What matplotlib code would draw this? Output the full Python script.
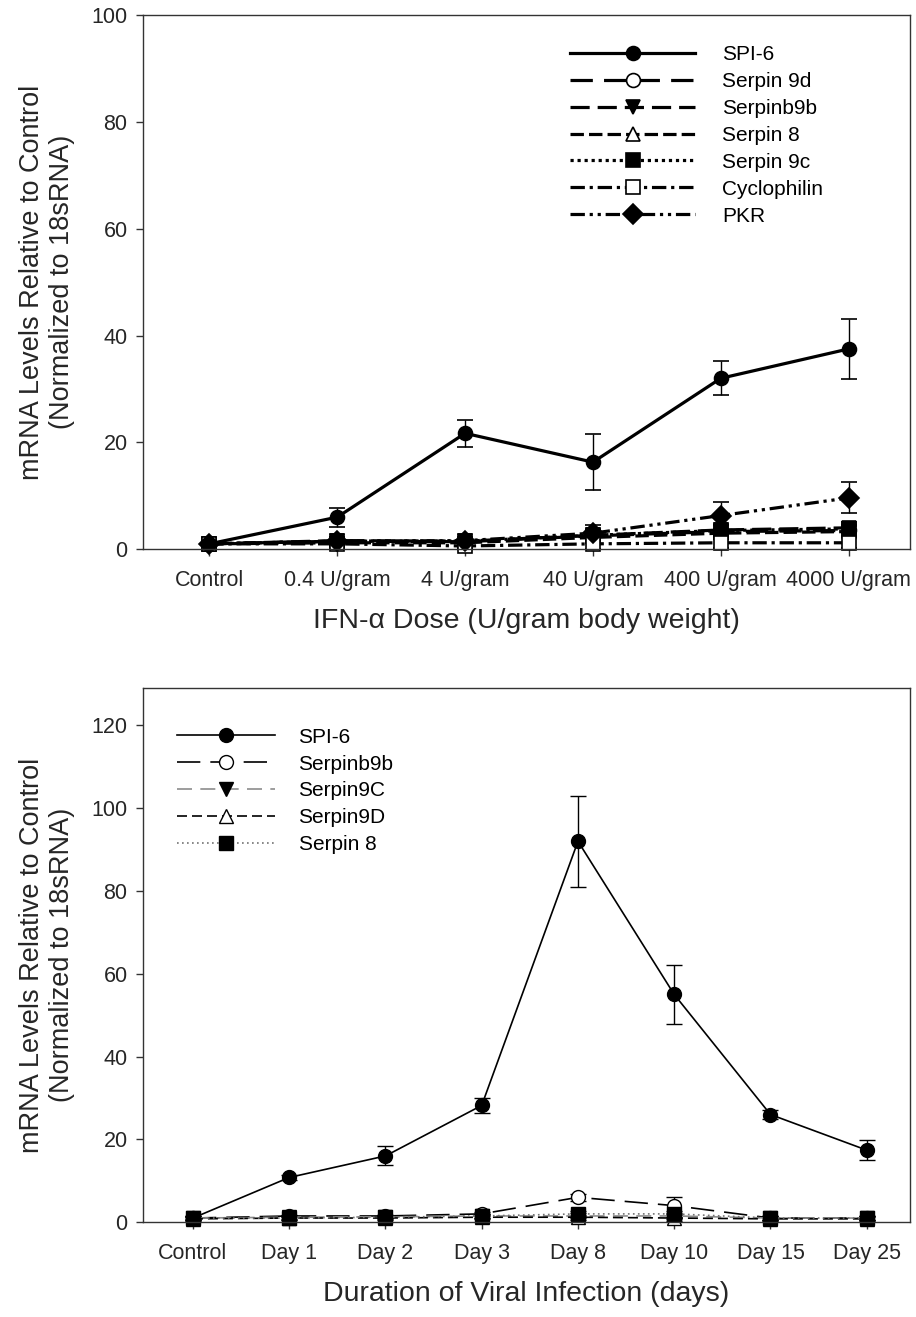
import numpy as np
import matplotlib
matplotlib.use("Agg")
import matplotlib.pyplot as plt
from matplotlib.lines import Line2D

plt.rcParams['font.family'] = ['Liberation Sans', 'DejaVu Sans']

# --- top panel: IFN-alpha dose response ---
dose_labels = ["Control", "0.4 U/gram", "4 U/gram", "40 U/gram", "400 U/gram", "4000 U/gram"]
top_names = ["SPI-6", "Serpin 9d", "Serpinb9b", "Serpin 8", "Serpin 9c", "Cyclophilin", "PKR"]
spi6_dose = [1.0, 6.0, 21.7, 16.3, 32.0, 37.5]
spi6_dose_err = [0.5, 1.8, 2.5, 5.2, 3.2, 5.6]
s9d_dose = [1.0, 1.5, 1.4, 2.5, 3.3, 3.5]
sb9b_dose = [1.0, 1.6, 1.5, 2.6, 3.6, 4.0]
s8_dose = [1.0, 1.2, 1.2, 2.2, 3.0, 3.3]
s9c_dose = [1.0, 1.5, 1.5, 2.6, 3.5, 3.8]
cyclo_dose = [1.0, 1.0, 0.6, 1.0, 1.2, 1.2]
pkr_dose = [1.0, 1.5, 1.6, 3.0, 6.3, 9.6]
pkr_dose_err = [0.4, 0.6, 0.6, 1.6, 2.6, 2.9]
small_dose_err = [0.4, 0.6, 0.6, 1.0, 1.0, 1.0]

# --- bottom panel: time course of viral infection ---
day_labels = ["Control", "Day 1", "Day 2", "Day 3", "Day 8", "Day 10", "Day 15", "Day 25"]
bot_names = ["SPI-6", "Serpinb9b", "Serpin9C", "Serpin9D", "Serpin 8"]
spi6_day = [1.0, 10.8, 16.0, 28.2, 92.0, 55.0, 26.0, 17.4]
spi6_day_err = [0.5, 0.6, 2.3, 1.8, 11.0, 7.2, 1.0, 2.4]
sb9b_day = [1.0, 1.5, 1.5, 2.0, 6.0, 4.0, 1.0, 1.0]
sb9b_day_err = [0.3, 0.3, 0.3, 0.4, 0.8, 2.0, 0.5, 0.5]
s9c_day = [1.0, 1.2, 1.3, 1.5, 1.5, 1.5, 1.0, 1.0]
s9d_day = [0.8, 1.0, 1.0, 1.2, 1.2, 1.0, 0.8, 0.8]
s8_day = [1.0, 1.0, 1.2, 1.5, 2.0, 2.0, 1.0, 1.0]
small_day_err = [0.4, 0.4, 0.4, 0.5, 0.6, 0.8, 0.5, 0.5]

ylab = "mRNA Levels Relative to Control\n(Normalized to 18sRNA)"

fig = plt.figure(figsize=(9.16, 13.17), dpi=100)
ax1 = fig.add_axes([0.156, 0.583, 0.8375, 0.4055])
ax2 = fig.add_axes([0.156, 0.072, 0.8375, 0.4055])

x1 = np.arange(len(dose_labels))
top_series = [
    (spi6_dose, spi6_dose_err, 'o', 'k', '-'),
    (s9d_dose, small_dose_err, 'o', 'w', (0, (7, 3.5))),
    (sb9b_dose, small_dose_err, 'v', 'k', (0, (6, 2.5))),
    (s8_dose, small_dose_err, '^', 'w', (0, (4.2, 1.6))),
    (s9c_dose, small_dose_err, 's', 'k', (0, (1, 1.2))),
    (cyclo_dose, small_dose_err, 's', 'w', (0, (4.5, 1.5, 1, 1.5))),
    (pkr_dose, pkr_dose_err, 'D', 'k', (0, (4.5, 1.5, 1, 1.5, 1, 1.5))),
]
handles1 = []
for name, (y, e, m, fc, ls) in zip(top_names, top_series):
    ax1.errorbar(x1, y, yerr=e, color='k', lw=2.3, ls=ls, marker=m, ms=10,
                 mfc=fc, mec='k', mew=1.2, ecolor='k', elinewidth=1.0,
                 capsize=6, capthick=1.0)
    handles1.append(Line2D([], [], color='k', lw=2.3, ls=ls, marker=m, ms=10,
                           mfc=fc, mec='k', mew=1.2, label=name))

ax1.set_xlim(-0.52, 5.48)
ax1.set_ylim(0, 100)
ax1.set_yticks(np.arange(0, 101, 20))
ax1.set_xticks(x1)
ax1.set_xticklabels(dose_labels)
ax1.set_xlabel("IFN-α Dose (U/gram body weight)", fontsize=20.5, labelpad=12)
ax1.set_ylabel(ylab, fontsize=19.5, labelpad=12)
ax1.legend(handles=handles1, loc='upper left', bbox_to_anchor=(0.557, 0.944),
           frameon=False, fontsize=15, handlelength=6.0, handletextpad=1.3,
           labelspacing=0.38, borderpad=0, borderaxespad=0)

x2 = np.arange(len(day_labels))
bot_series = [
    (spi6_day, spi6_day_err, 'o', 'k', '-', 'k'),
    (sb9b_day, sb9b_day_err, 'o', 'w', (0, (14, 6)), 'k'),
    (s9c_day, small_day_err, 'v', 'k', (0, (9, 5)), '0.55'),
    (s9d_day, small_day_err, '^', 'w', (0, (6, 3)), 'k'),
    (s8_day, small_day_err, 's', 'k', (0, (1, 2)), '0.45'),
]
handles2 = []
for name, (y, e, m, fc, ls, lc) in zip(bot_names, bot_series):
    ax2.errorbar(x2, y, yerr=e, color=lc, lw=1.2, ls=ls, marker=m, ms=10,
                 mfc=fc, mec='k', mew=1.0, ecolor='k', elinewidth=1.0,
                 capsize=6, capthick=1.0)
    handles2.append(Line2D([], [], color=lc, lw=1.2, ls=ls, marker=m, ms=10,
                           mfc=fc, mec='k', mew=1.0, label=name))

ax2.set_xlim(-0.52, 7.45)
ax2.set_ylim(0, 129)
ax2.set_yticks(np.arange(0, 121, 20))
ax2.set_xticks(x2)
ax2.set_xticklabels(day_labels)
ax2.set_xlabel("Duration of Viral Infection (days)", fontsize=20.5, labelpad=12)
ax2.set_ylabel(ylab, fontsize=19.5, labelpad=12)
ax2.legend(handles=handles2, loc='upper left', bbox_to_anchor=(0.044, 0.926),
           frameon=False, fontsize=15, handlelength=4.7, handletextpad=1.15,
           labelspacing=0.38, borderpad=0, borderaxespad=0)

for ax in (ax1, ax2):
    for sp in ax.spines.values():
        sp.set_linewidth(1.0)
        sp.set_color('0.2')
    ax.tick_params(axis='both', direction='out', length=5, width=1.0,
                   labelsize=15.5, colors='0.2', labelcolor='0.15')
    ax.tick_params(axis='x', pad=10)
    ax.tick_params(axis='y', pad=6)
    ax.yaxis.label.set_color('0.15')
    ax.xaxis.label.set_color('0.15')
    for line in ax.get_lines():
        line.set_clip_on(False)

fig.savefig("out.png", dpi=100)
